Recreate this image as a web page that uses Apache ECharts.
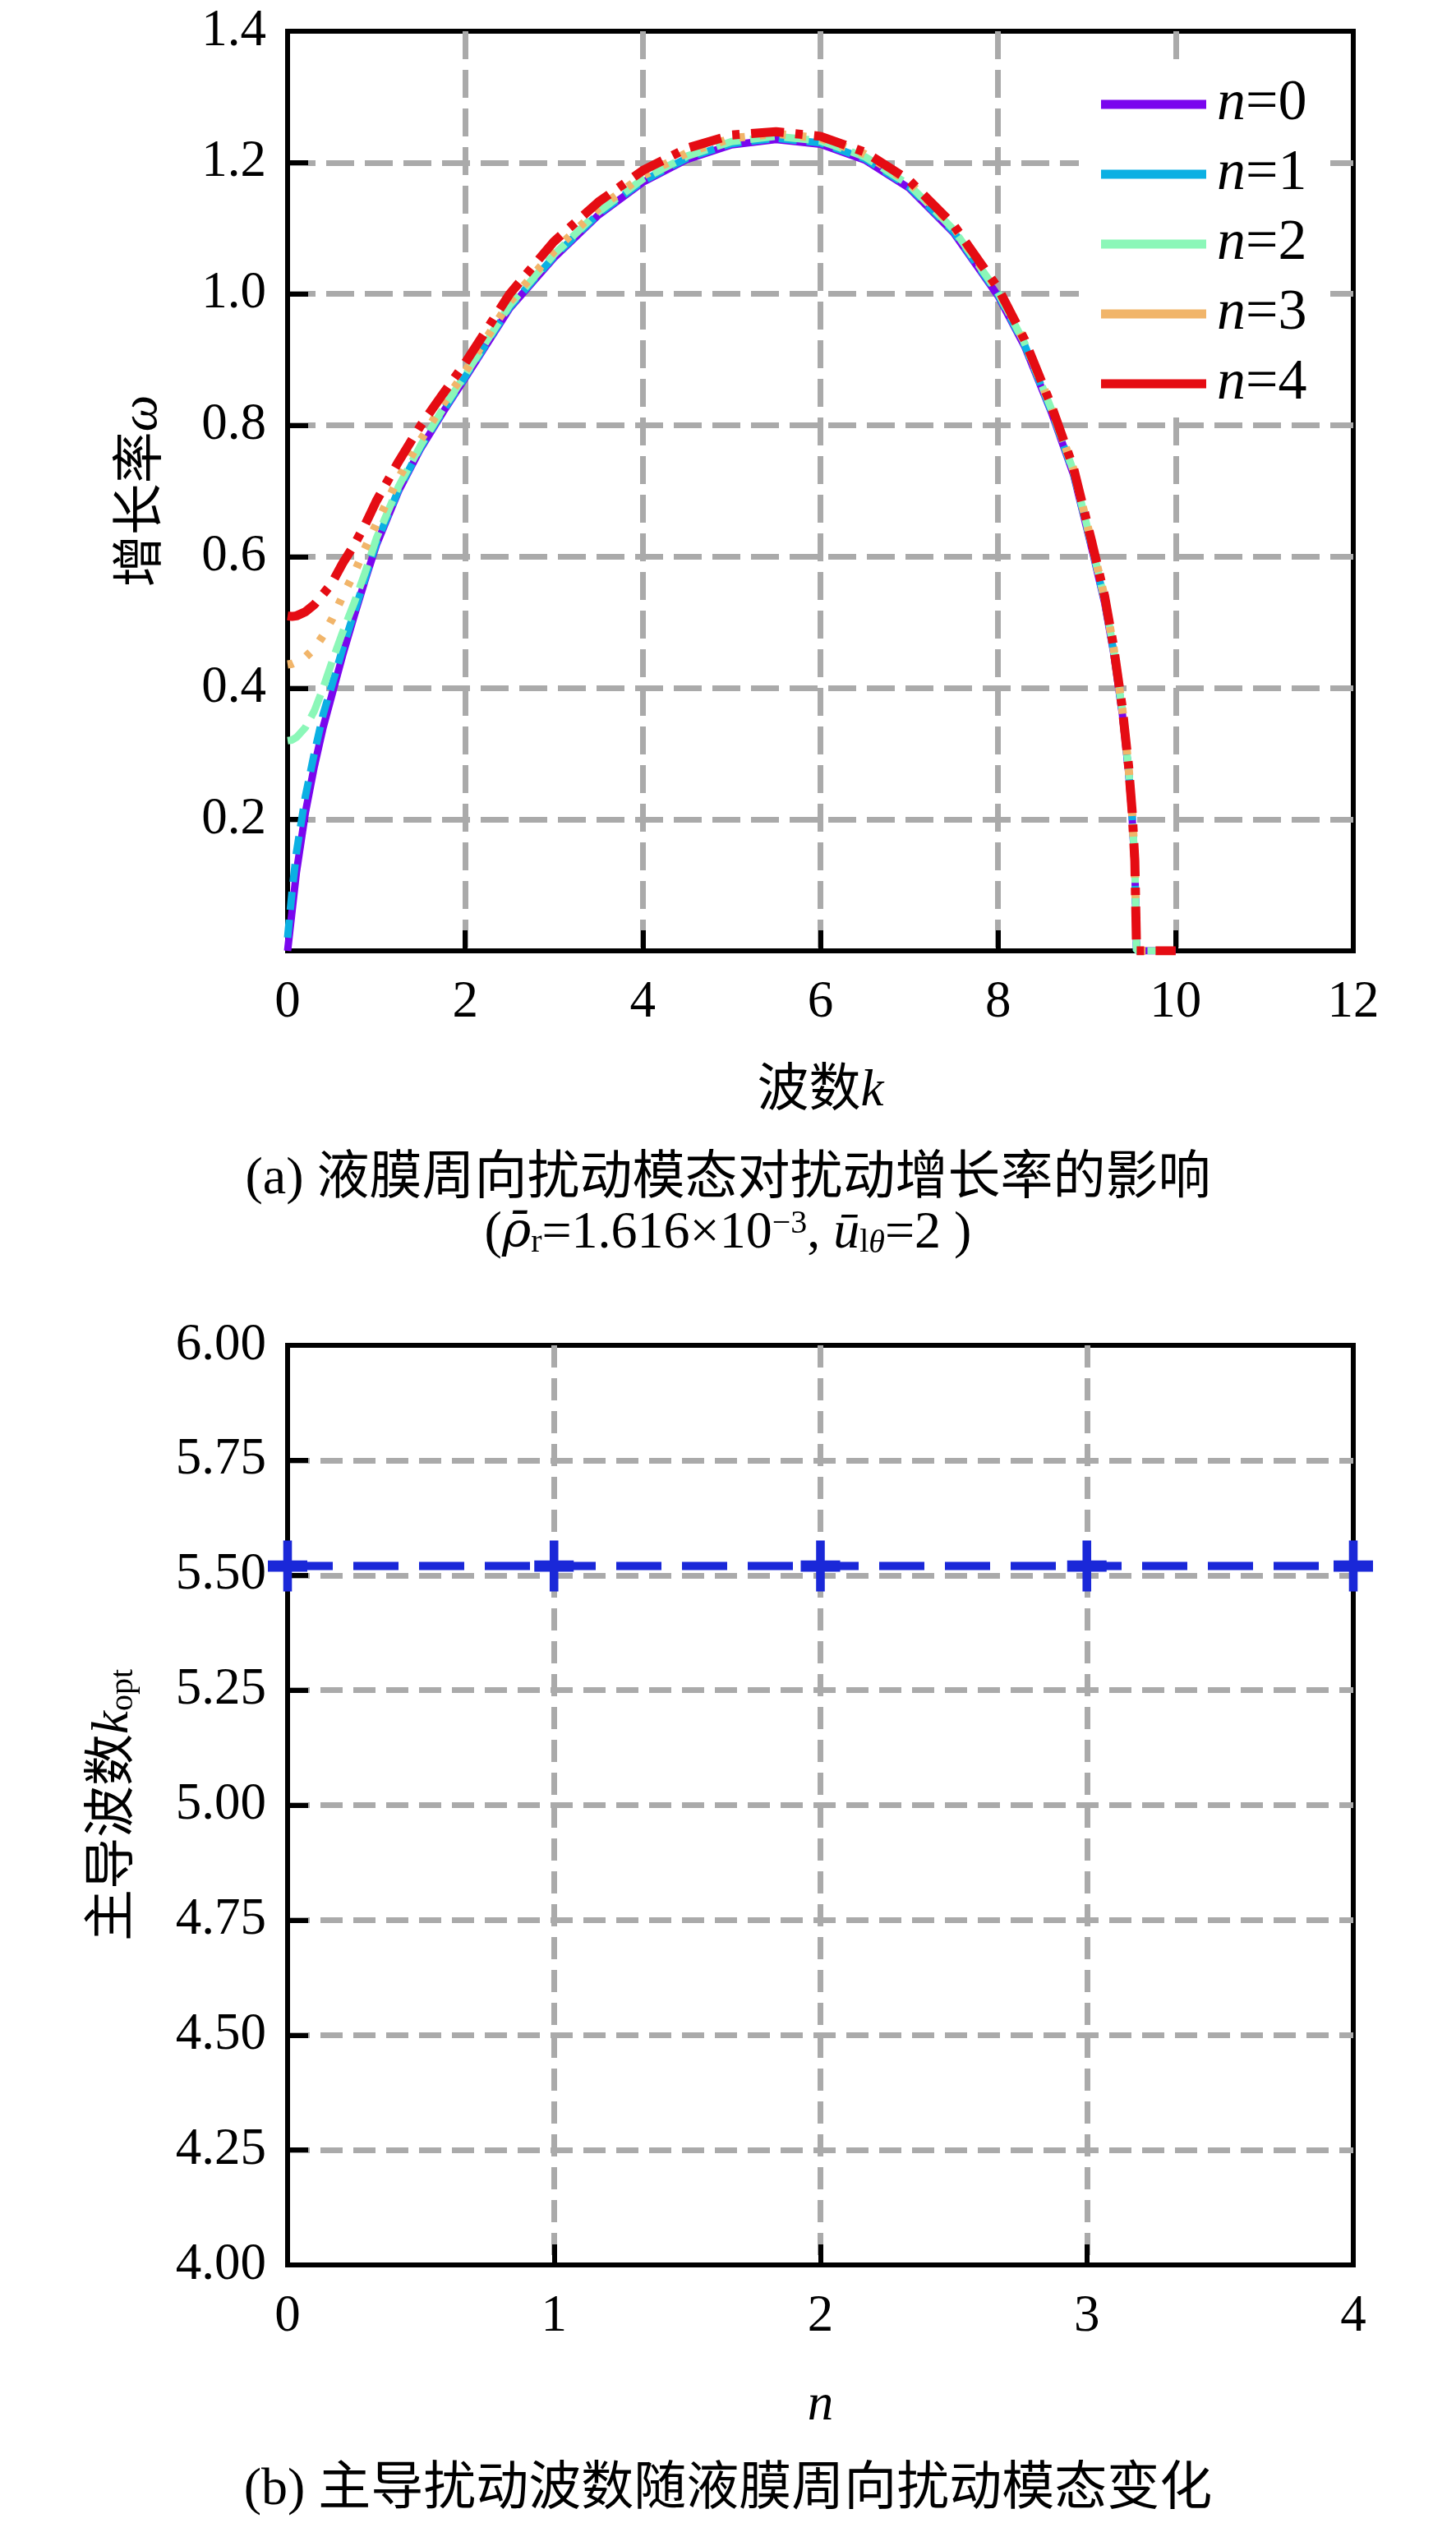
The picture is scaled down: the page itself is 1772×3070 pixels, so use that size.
<!DOCTYPE html>
<html>
<head>
<meta charset="utf-8">
<title>growth rate</title>
<script src="https://cdn.jsdelivr.net/npm/echarts@6/dist/echarts.min.js"></script>
<style>
html,body{margin:0;padding:0;background:#fff;}
#Charts1{width:1772px;height:3070px;}
</style>
</head>
<body>
<div id="Charts1"></div>
<script>
// 波数 k
var kData = [0, 0.05, 0.1, 0.2, 0.3, 0.4, 0.5, 0.62, 0.75, 0.87,
	1.0, 1.25, 1.5, 1.75, 2.0, 2.5, 3.0, 3.5, 4.0, 4.5,
	5.0, 5.5, 6.0, 6.5, 7.0, 7.5, 8.0, 8.3, 8.6, 8.85,
	9.06, 9.2, 9.3, 9.4, 9.47, 9.51, 9.54, 9.56, 10.0];
// 增长率 ω, n=0..4
var omegaN0 = [0, 0.06, 0.12, 0.21, 0.28, 0.34, 0.39, 0.45, 0.51, 0.563,
	0.618, 0.70, 0.765, 0.82, 0.872, 0.978, 1.055, 1.12, 1.17, 1.205,
	1.227, 1.235, 1.228, 1.204, 1.161, 1.093, 0.997, 0.92, 0.82, 0.725,
	0.61, 0.53, 0.455, 0.36, 0.272, 0.203, 0.128, 0, 0];
var omegaN1 = [0.02, 0.09, 0.15, 0.235, 0.30, 0.36, 0.405, 0.46, 0.515, 0.566,
	0.621, 0.702, 0.767, 0.822, 0.874, 0.98, 1.057, 1.122, 1.172, 1.207,
	1.229, 1.237, 1.23, 1.206, 1.163, 1.095, 0.999, 0.922, 0.822, 0.727,
	0.612, 0.532, 0.457, 0.362, 0.274, 0.205, 0.13, 0, 0];
var omegaN2 = [0.32, 0.321, 0.325, 0.34, 0.365, 0.40, 0.44, 0.485, 0.53, 0.575,
	0.628, 0.707, 0.77, 0.825, 0.877, 0.983, 1.06, 1.125, 1.175, 1.21,
	1.232, 1.24, 1.233, 1.209, 1.166, 1.098, 1.002, 0.925, 0.825, 0.73,
	0.615, 0.535, 0.46, 0.365, 0.277, 0.208, 0.133, 0, 0];
var omegaN3 = [0.436, 0.437, 0.44, 0.447, 0.46, 0.48, 0.505, 0.54, 0.575, 0.612,
	0.65, 0.72, 0.778, 0.832, 0.882, 0.988, 1.065, 1.13, 1.18, 1.215,
	1.237, 1.244, 1.237, 1.213, 1.17, 1.102, 1.006, 0.928, 0.828, 0.733,
	0.618, 0.538, 0.462, 0.367, 0.279, 0.21, 0.135, 0, 0];
var omegaN4 = [0.51, 0.509, 0.51, 0.516, 0.527, 0.543, 0.56, 0.59, 0.618, 0.648,
	0.685, 0.745, 0.80, 0.848, 0.895, 1.0, 1.08, 1.14, 1.188, 1.222,
	1.242, 1.247, 1.24, 1.216, 1.173, 1.105, 1.009, 0.93, 0.83, 0.735,
	0.62, 0.54, 0.464, 0.369, 0.281, 0.212, 0.137, 0, 0];
var modeNames = ['n=0', 'n=1', 'n=2', 'n=3', 'n=4'];
var modeColors = ['#7a06ee', '#0bb0e3', '#8bf7b8', '#f1b56a', '#e50c13'];
// 主导波数
var nData = [0, 1, 2, 3, 4];
var kOpt = [5.52, 5.52, 5.52, 5.52, 5.52];
var yTicksA = [0, 0.2, 0.4, 0.6, 0.8, 1.0, 1.2, 1.4];

var FONT = "'Liberation Serif','Noto Sans CJK SC',serif";
var myChart = echarts.init(document.getElementById('Charts1'));

function pairs(xs, ys){
	var out = [];
	for(var i=0;i<xs.length;i++){ out.push([xs[i], ys[i]]); }
	return out;
}

var lineTypes = [
	{type:'solid', width:9},
	{type:[22,12], width:9},
	{type:[30,12], width:9},
	{type:[7,18], width:10},
	{type:[40,14,9,14], width:11}
];
var omegaAll = [omegaN0, omegaN1, omegaN2, omegaN3, omegaN4];

var labelStyle = {color:'#000', fontSize:63, fontFamily:FONT};
var gridLineA = {show:true, showMinLine:false, showMaxLine:false, lineStyle:{color:'#aaaaaa', width:7, type:[34,13]}};
var gridLineB = {show:true, showMinLine:false, showMaxLine:false, lineStyle:{color:'#aaaaaa', width:7, type:[27,13]}};
var tick = {show:true, inside:true, length:25, lineStyle:{color:'#000', width:6}};
var axLine = {show:true, onZero:false, lineStyle:{color:'#000', width:6}};
var richIt = {i:{fontStyle:'italic', fontSize:63, fontFamily:FONT},
	sub:{fontSize:40, fontFamily:FONT, verticalAlign:'bottom', padding:[18,0,0,0]}};

var series = [];
for(var s=0;s<5;s++){
	series.push({
		name: modeNames[s],
		type: 'line',
		xAxisIndex: 0, yAxisIndex: 0,
		data: pairs(kData, omegaAll[s]),
		showSymbol: false,
		clip: true,
		color: modeColors[s],
		lineStyle: {color: modeColors[s], width: lineTypes[s].width, type: lineTypes[s].type}
	});
}
series.push({
	name: 'kopt',
	type: 'line',
	xAxisIndex: 1, yAxisIndex: 1,
	data: pairs(nData, kOpt),
	symbol: 'path://M-2.2,-10H2.2V-2.2H10V2.2H2.2V10H-2.2V2.2H-10V-2.2H-2.2Z',
	symbolSize: [48, 62],
	itemStyle: {color: '#1a28d8'},
	lineStyle: {color: '#1a28d8', width: 10, type: [55, 25]}
});

option = {
	backgroundColor: '#fff',
	animation: false,
	grid: [
		{left:350, top:38, width:1297, height:1119, show:true, borderColor:'#000', borderWidth:6, backgroundColor:'transparent'},
		{left:350, top:1637, width:1297, height:1119, show:true, borderColor:'#000', borderWidth:6, backgroundColor:'transparent'}
	],
	xAxis: [
		{ gridIndex:0, type:'value', min:0, max:12, interval:2,
		  name:'波数{i|k}', nameLocation:'middle', nameGap:140,
		  nameTextStyle:{color:'#000', fontSize:63, fontFamily:FONT, rich:richIt},
		  axisLine:axLine, axisTick:tick, splitLine:gridLineA,
		  axisLabel:Object.assign({margin:32}, labelStyle) },
		{ gridIndex:1, type:'value', min:0, max:4, interval:1,
		  name:'{i|n}', nameLocation:'middle', nameGap:140,
		  nameTextStyle:{color:'#000', fontSize:63, fontFamily:FONT, rich:richIt},
		  axisLine:axLine, axisTick:tick, splitLine:gridLineB,
		  axisLabel:Object.assign({margin:32}, labelStyle) }
	],
	yAxis: [
		{ gridIndex:0, type:'value', min:yTicksA[0], max:yTicksA[yTicksA.length-1], interval:0.2,
		  name:'增长率{i|ω}', nameLocation:'middle', nameGap:145,
		  nameTextStyle:{color:'#000', fontSize:63, fontFamily:FONT, rich:richIt},
		  axisLine:axLine, axisTick:tick, splitLine:gridLineA,
		  axisLabel:Object.assign({margin:26, formatter:function(v){ return v === 0 ? '' : v.toFixed(1); }}, labelStyle) },
		{ gridIndex:1, type:'value', min:4, max:6, interval:0.25,
		  name:'主导波数{i|k}{sub|opt}', nameLocation:'middle', nameGap:180,
		  nameTextStyle:{color:'#000', fontSize:63, fontFamily:FONT, rich:richIt},
		  axisLine:axLine, axisTick:tick, splitLine:gridLineB,
		  axisLabel:Object.assign({margin:26, formatter:function(v){ return v.toFixed(2); }}, labelStyle) }
	],
	legend: {
		data: modeNames,
		orient: 'vertical',
		left: 1313, top: 72,
		padding: [20, 20, 4, 27],
		backgroundColor: '#fff',
		icon: 'rect',
		itemWidth: 128, itemHeight: 11,
		itemGap: 15,
		formatter: function(name){ return '{i|n}' + name.slice(1); },
		textStyle: {color:'#000', fontSize:70, fontFamily:FONT, padding:[0,0,0,8], rich:{i:{fontStyle:'italic', fontSize:70, fontFamily:FONT}}}
	},
	title: [
		{ text:'(a) 液膜周向扰动模态对扰动增长率的影响', left:'center', top:1398,
		  textStyle:{color:'#000', fontSize:64, fontWeight:'normal', fontFamily:FONT} },
		{ text:'({rho|ρ̄}{sub|r}=1.616×10{sup|−3}, {i|ū}{sub|l}{subi|θ}=2 )', left:'center', top:1464,
		  textStyle:{color:'#000', fontSize:64, fontWeight:'normal', fontFamily:FONT,
		    rich:{
		      i:{fontStyle:'italic', fontSize:64, fontFamily:FONT},
		      rho:{fontStyle:'italic', fontSize:60, fontFamily:"'DejaVu Serif',serif"},
		      sub:{fontSize:40, fontFamily:FONT, verticalAlign:'bottom', padding:[20,0,0,0]},
		      subi:{fontSize:40, fontStyle:'italic', fontFamily:FONT, verticalAlign:'bottom', padding:[20,0,0,0]},
		      sup:{fontSize:40, fontFamily:FONT, verticalAlign:'top', padding:[0,0,20,0]}
		    }} },
		{ text:'(b) 主导扰动波数随液膜周向扰动模态变化', left:'center', top:2993,
		  textStyle:{color:'#000', fontSize:64, fontWeight:'normal', fontFamily:FONT} }
	],
	series: series
};
myChart.setOption(option);
</script>
</body>
</html>
